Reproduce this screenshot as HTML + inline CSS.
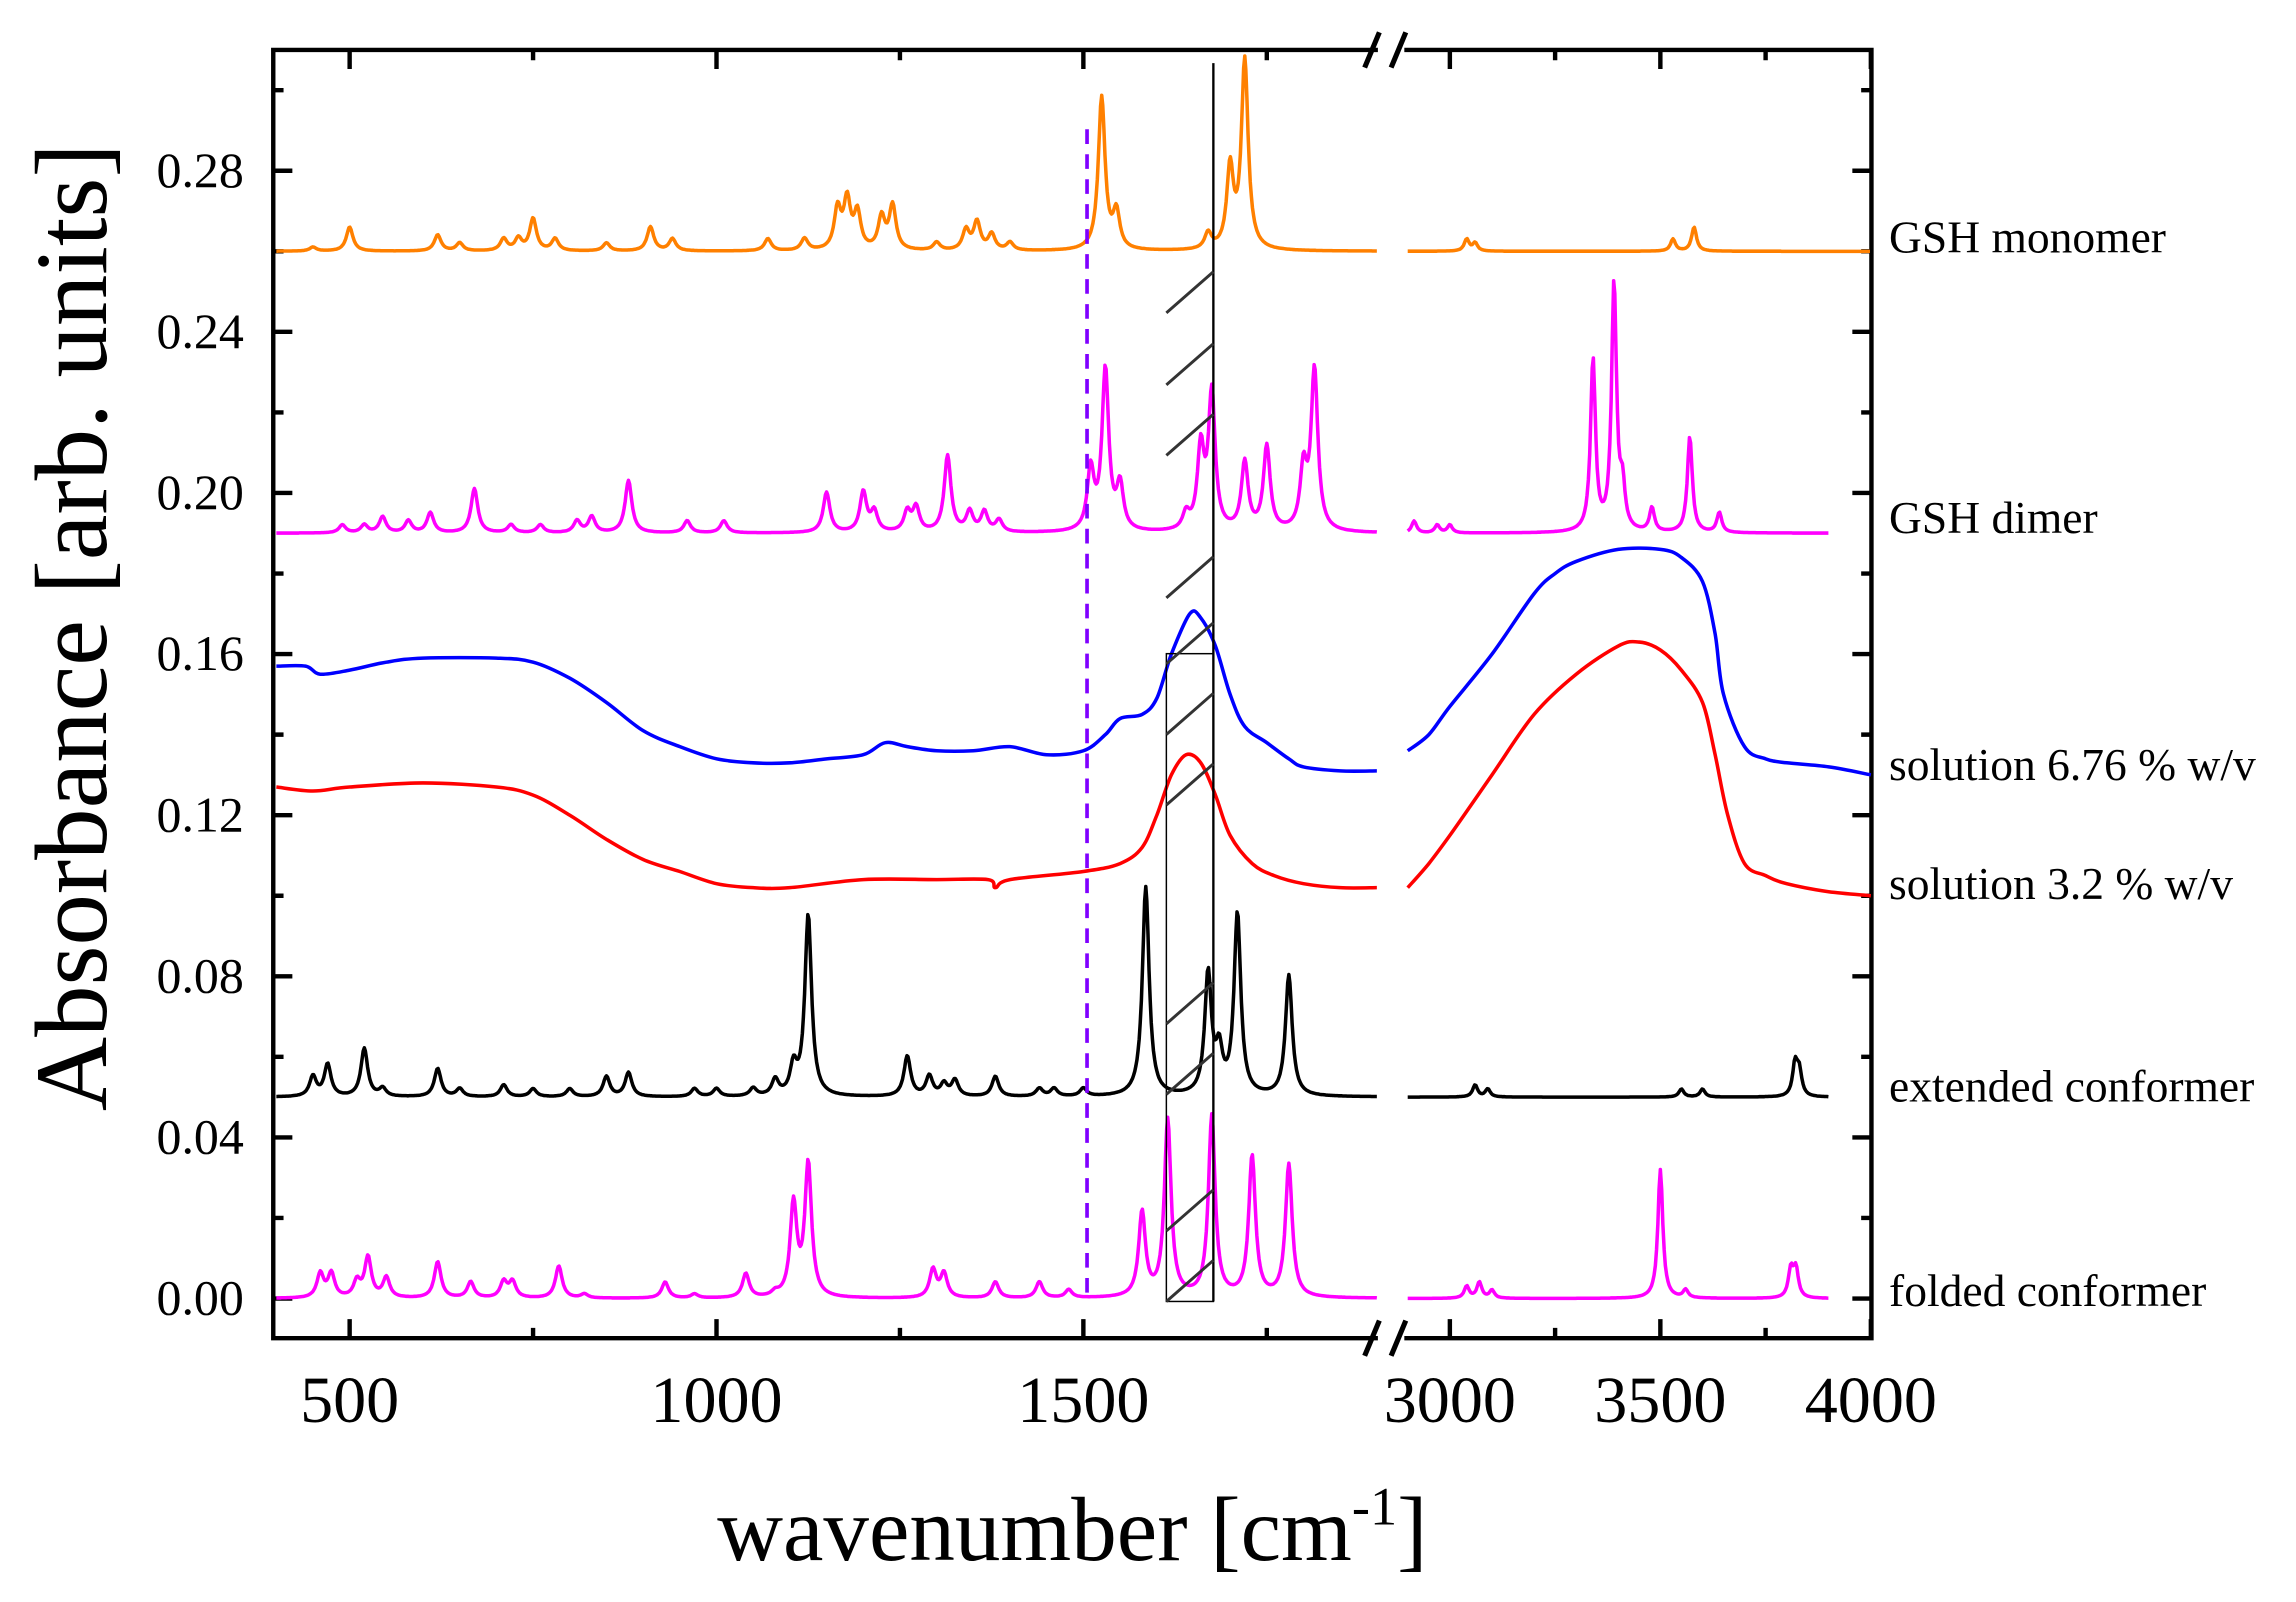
<!DOCTYPE html>
<html><head><meta charset="utf-8"><style>
html,body{margin:0;padding:0;background:#fff}
svg{display:block}
text{font-family:"Liberation Serif",serif;fill:#000}
</style></head><body>
<svg id="chart" width="2296" height="1602" viewBox="0 0 1563 1090.6" xmlns="http://www.w3.org/2000/svg">
<g id="plot"></g>
</svg>
<script>
// ---- data ----
const yTicks = [0.00,0.04,0.08,0.12,0.16,0.20,0.24,0.28];
const xTicksLeft = [500,1000,1500];
const xTicksRight = [3000,3500,4000];
const seriesNames = ["GSH monomer","GSH dimer","solution 6.76 % w/v","solution 3.2 % w/v","extended conformer","folded conformer"];
const monomerBase = 0.26;
const monomerPeaks = [[450,0.001],[500,0.006],[620,0.004],[650,0.002],[710,0.003],[730,0.003],[750,0.008],[780,0.003],[850,0.002],[910,0.006],[940,0.003],[1070,0.003],[1120,0.003],[1165,0.01],[1178,0.012],[1192,0.009],[1225,0.008],[1240,0.011],[1300,0.002],[1340,0.005],[1355,0.007],[1375,0.004],[1400,0.002],[1525,0.038],[1545,0.009],[1670,0.004],[1700,0.02],[1720,0.047],[3040,0.003],[3060,0.002],[3530,0.003],[3580,0.006]];
const dimerBase = 0.19;
const dimerPeaks = [[490,0.002],[520,0.002],[545,0.004],[580,0.003],[610,0.005],[670,0.011],[720,0.002],[760,0.002],[810,0.003],[830,0.004],[880,0.013],[960,0.003],[1010,0.003],[1150,0.01],[1200,0.01],[1215,0.005],[1260,0.005],[1272,0.006],[1315,0.019],[1345,0.005],[1365,0.005],[1385,0.003],[1510,0.015],[1530,0.04],[1550,0.011],[1640,0.004],[1660,0.02],[1675,0.034],[1720,0.017],[1750,0.021],[1800,0.015],[1815,0.04],[2915,0.003],[2970,0.002],[3000,0.002],[3340,0.043],[3390,0.062],[3410,0.01],[3480,0.006],[3570,0.024],[3640,0.005]];
const extendedBase = 0.05;
const extendedPeaks = [[450,0.005],[470,0.008],[520,0.012],[545,0.002],[620,0.007],[650,0.002],[710,0.003],[750,0.002],[800,0.002],[850,0.005],[880,0.006],[970,0.002],[1000,0.002],[1050,0.002],[1080,0.004],[1105,0.007],[1125,0.045],[1260,0.01],[1290,0.005],[1310,0.003],[1325,0.004],[1380,0.005],[1440,0.002],[1460,0.002],[1500,0.002],[1585,0.052],[1670,0.03],[1685,0.01],[1710,0.045],[1780,0.03],[3060,0.003],[3090,0.002],[3550,0.002],[3600,0.002],[3820,0.008],[3830,0.006]];
const foldedBase = 0.0;
const foldedPeaks = [[460,0.006],[475,0.006],[510,0.004],[525,0.01],[550,0.005],[620,0.009],[665,0.004],[710,0.004],[722,0.004],[785,0.008],[820,0.001],[930,0.004],[970,0.001],[1040,0.006],[1080,0.001],[1105,0.023],[1125,0.033],[1295,0.007],[1310,0.006],[1380,0.004],[1440,0.004],[1480,0.002],[1580,0.021],[1615,0.044],[1675,0.045],[1730,0.035],[1780,0.033],[3040,0.003],[3070,0.004],[3100,0.002],[3500,0.032],[3560,0.002],[3810,0.007],[3822,0.007]];
const blueWave = [400,440,460,500,550,600,700,750,800,850,900,950,1000,1050,1100,1150,1200,1230,1260,1300,1350,1400,1450,1500,1530,1550,1580,1600,1620,1645,1660,1680,1700,1720,1750,1780,1800,1850,1900];
const blueAbs  = [0.157,0.157,0.155,0.156,0.158,0.159,0.159,0.158,0.154,0.148,0.141,0.137,0.134,0.133,0.133,0.134,0.135,0.138,0.137,0.136,0.136,0.137,0.135,0.136,0.140,0.144,0.145,0.149,0.160,0.170,0.169,0.162,0.150,0.142,0.138,0.134,0.132,0.131,0.131];
const blueWaveR = [2900,2950,3000,3100,3200,3250,3300,3400,3500,3550,3600,3630,3650,3700,3750,3800,3900,4000];
const blueAbsR  = [0.136,0.140,0.147,0.160,0.175,0.180,0.183,0.186,0.186,0.184,0.178,0.165,0.150,0.137,0.134,0.133,0.132,0.130];
const redWave = [400,450,500,600,700,750,800,850,900,950,1000,1050,1100,1200,1300,1370,1380,1400,1500,1550,1580,1600,1620,1640,1660,1680,1700,1730,1760,1800,1850,1900];
const redAbs  = [0.127,0.126,0.127,0.128,0.127,0.125,0.120,0.114,0.109,0.106,0.103,0.102,0.102,0.104,0.104,0.104,0.102,0.104,0.106,0.108,0.112,0.120,0.130,0.135,0.133,0.125,0.115,0.108,0.105,0.103,0.102,0.102];
const redWaveR = [2900,2950,3000,3100,3200,3300,3400,3450,3500,3550,3600,3630,3660,3700,3750,3800,3900,4000];
const redAbsR  = [0.102,0.108,0.115,0.130,0.145,0.155,0.162,0.163,0.161,0.156,0.148,0.135,0.120,0.108,0.105,0.103,0.101,0.100];

// ---- axes ----
const L=186,R=1274,T=34,B=911,BRK1=938,BRK2=956;
function xs(w){return w<=2000 ? 238+(w-500)*0.4995 : 987+(w-3000)*0.2866;}
function ys(a){return 884-a*2742;}
const NS="http://www.w3.org/2000/svg";
const g=document.getElementById('plot');
function mk(tag,attrs,parent){const e=document.createElementNS(NS,tag);for(const k in attrs)e.setAttribute(k,attrs[k]);(parent||g).appendChild(e);return e;}

let e;
e=mk('path',{d:`M${BRK1},${T}H${L}V${B}H${BRK1} M${BRK2},${T}H${R}V${B}H${BRK2}`,fill:'none',stroke:'#000','stroke-width':3});


[T,B].forEach(yy=>{
  e=mk('path',{d:`M${BRK1-9},${yy+12}L${BRK1+1},${yy-12} M${BRK2-9},${yy+12}L${BRK2+1},${yy-12}`,stroke:'#000','stroke-width':3.5});
  
  
});
function xtick(w,len){
  const x=xs(w);
  e=mk('path',{d:`M${x},${B}v${-len} M${x},${T}v${len}`,stroke:'#000','stroke-width':3});
  
  
}
xTicksLeft.concat(xTicksRight).forEach(w=>xtick(w,13));
[750,1250,1750,3250,3750].forEach(w=>xtick(w,7));
[...xTicksLeft,...xTicksRight].forEach(w=>{
  e=mk('text',{x:xs(w),y:968,'font-size':45,'text-anchor':'middle'});
  e.textContent=w;
  
  
});
yTicks.forEach(v=>{
  const y=ys(v);
  e=mk('path',{d:`M${L},${y}h13 M${R},${y}h-13`,stroke:'#000','stroke-width':3});
  
  
  e=mk('text',{x:166,y:y+11,'font-size':34,'text-anchor':'end'});
  e.textContent=v.toFixed(2);
  
  
});
for(let v=0.02;v<=0.30;v+=0.04){
  const y=ys(v);
  e=mk('path',{d:`M${L},${y}h7 M${R},${y}h-7`,stroke:'#000','stroke-width':3});
  
  
}
e=mk('text',{x:0,y:0,'font-size':70,'text-anchor':'middle',transform:'translate(72,427) rotate(-90)'});
e.textContent='Absorbance [arb. units]';


e=mk('text',{x:730,y:1062,'font-size':62,'text-anchor':'middle'});
e.innerHTML='wavenumber [cm<tspan dy="-24" font-size="37">-1</tspan><tspan dy="24">]</tspan>';



// ---- series ----
function lor(base,peaks,w){let s=base;for(const p of peaks){const hw=p[0]>2500?7:5.5;const d=(w-p[0])/hw;s+=p[1]/(1+d*d);}return s;}
function peakPath(base,peaks,rightEnd){
  let d='';
  for(let w=400;w<=1900;w+=1.5) d+=(w===400?'M':'L')+xs(w).toFixed(1)+','+ys(lor(base,peaks,w)).toFixed(1);
  for(let w=2900;w<=rightEnd;w+=3) d+=(w===2900?'M':'L')+xs(w).toFixed(1)+','+ys(lor(base,peaks,w)).toFixed(1);
  return d;
}
function smooth(wl,al){
  const p=wl.map((w,i)=>[xs(w),ys(al[i])]);
  let d='M'+p[0][0].toFixed(1)+','+p[0][1].toFixed(1);
  for(let i=0;i<p.length-1;i++){
    const p0=p[i-1]||p[i],p1=p[i],p2=p[i+1],p3=p[i+2]||p2;
    const c1=[p1[0]+(p2[0]-p0[0])/6,p1[1]+(p2[1]-p0[1])/6];
    const c2=[p2[0]-(p3[0]-p1[0])/6,p2[1]-(p3[1]-p1[1])/6];
    d+=`C${c1[0].toFixed(1)},${c1[1].toFixed(1)} ${c2[0].toFixed(1)},${c2[1].toFixed(1)} ${p2[0].toFixed(1)},${p2[1].toFixed(1)}`;
  }
  return d;
}
function series(d,color,name){
  e=mk('path',{d:d,fill:'none',stroke:color,'stroke-width':2.4,'stroke-linejoin':'round'});
  
  
}
series(peakPath(monomerBase,monomerPeaks,4000),'#ff8000','series-gsh-monomer');
series(peakPath(dimerBase,dimerPeaks,3900),'#ff00ff','series-gsh-dimer');
series(smooth(blueWave,blueAbs)+smooth(blueWaveR,blueAbsR),'#0000ff','series-solution-6-76');
series(smooth(redWave,redAbs)+smooth(redWaveR,redAbsR),'#ff0000','series-solution-3-2');
series(peakPath(extendedBase,extendedPeaks,3900),'#000000','series-extended-conformer');
series(peakPath(foldedBase,foldedPeaks,3900),'#ff00ff','series-folded-conformer');

e=mk('line',{x1:740,y1:88,x2:740,y2:884,stroke:'#8000ff','stroke-width':2.5,'stroke-dasharray':'10,7'});


e=mk('line',{x1:826,y1:43,x2:826,y2:886,stroke:'#000','stroke-width':1.6});


e=mk('rect',{x:794,y:445,width:32,height:441,fill:'none',stroke:'#000','stroke-width':1});


[213,262,310,407,452,500,548,697,745,838,886].forEach(y=>{
  e=mk('line',{x1:794,y1:y,x2:826,y2:y-28,stroke:'#333','stroke-width':2});
  
  
});

const labelY=[172,363,531,612,750,889];
seriesNames.forEach((n,i)=>{
  e=mk('text',{x:1286,y:labelY[i],'font-size':31});
  e.textContent=n;
  
  
});
</script>
</body></html>
